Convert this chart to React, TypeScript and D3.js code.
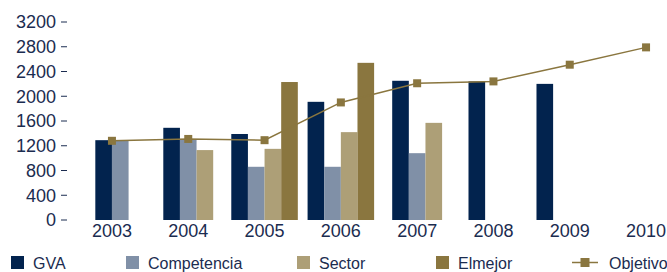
import React from 'react';
import * as d3 from 'd3';

const years = ['2003', '2004', '2005', '2006', '2007', '2008', '2009', '2010'];
const gva = [1290, 1490, 1390, 1910, 2250, 2240, 2200, null];
const competencia = [1290, 1300, 860, 860, 1080, 0, 0, null];
const sector = [null, 1130, 1150, 1420, 1570, 0, 0, null];
const elMejor = [null, null, 2230, 2540, null, null, 0, null];
const objetivo = [1280, 1310, 1290, 1900, 2210, 2240, 2510, 2790];
const yTicks = [0, 400, 800, 1200, 1600, 2000, 2400, 2800, 3200];

const series = [
  { name: 'GVA', values: gva, color: '#02234e' },
  { name: 'Competencia', values: competencia, color: '#8090a7' },
  { name: 'Sector', values: sector, color: '#ad9f77' },
  { name: 'Elmejor', values: elMejor, color: '#8a763f' },
];
const lineColor = '#8a763f';
const textColor = '#1b2c50';
const font = '"Liberation Sans", Arial, Helvetica, sans-serif';

const W = 667;
const H = 272;
// legend item offsets (layout only)
const legendX = [11, 126, 297, 436, 572];

export default function App() {
  const x = d3.scaleBand().domain(years).range([73.8, 684.2]).padding(0);
  const y = d3.scaleLinear().domain([0, 3200]).range([220, 22]);
  const barW = x.bandwidth() * 0.218;

  const line = d3
    .line<number>()
    .x((_, i) => (x(years[i]) as number) + x.bandwidth() / 2)
    .y((d) => y(d));

  return (
    <svg width={W} height={H} style={{ position: 'absolute', left: 0, top: 0, fontFamily: font }}>
      {/* y axis */}
      {yTicks.map((t) => (
        <g key={t} transform={`translate(0,${y(t)})`}>
          <line x1={61} x2={67} stroke={textColor} strokeWidth={1} />
          <text x={56} dy="0.35em" textAnchor="end" fontSize={18} fill={textColor}>
            {t}
          </text>
        </g>
      ))}

      {/* bars */}
      {years.map((yr, i) => {
        const present = series.filter((s) => s.values[i] !== null);
        const inner = d3
          .scaleBand()
          .domain(present.map((s) => s.name))
          .range([0, barW * present.length]);
        const cx = (x(yr) as number) + x.bandwidth() / 2;
        const start = cx - (barW * present.length) / 2;
        return (
          <g key={yr}>
            {present.map((s) => {
              const v = s.values[i] as number;
              return (
                <rect
                  key={s.name}
                  x={start + (inner(s.name) as number)}
                  y={y(v)}
                  width={inner.bandwidth()}
                  height={y(0) - y(v)}
                  fill={s.color}
                />
              );
            })}
          </g>
        );
      })}

      {/* objetivo line */}
      <path d={line(objetivo) || ''} fill="none" stroke={lineColor} strokeWidth={1.5} />
      {objetivo.map((v, i) => (
        <rect
          key={i}
          x={(x(years[i]) as number) + x.bandwidth() / 2 - 4}
          y={y(v) - 4}
          width={8}
          height={8}
          fill={lineColor}
        />
      ))}

      {/* x labels */}
      {years.map((yr) => (
        <text
          key={yr}
          x={(x(yr) as number) + x.bandwidth() / 2}
          y={237}
          textAnchor="middle"
          fontSize={18}
          fill={textColor}
        >
          {yr}
        </text>
      ))}

      {/* legend */}
      {series.map((s, i) => (
        <g key={s.name} transform={`translate(${legendX[i]},0)`}>
          <rect x={0} y={256} width={13} height={13} fill={s.color} />
          <text x={22} y={269} fontSize={16} fill={textColor}>
            {s.name}
          </text>
        </g>
      ))}
      <g transform={`translate(${legendX[4]},0)`}>
        <line x1={0} x2={26} y1={262.5} y2={262.5} stroke={lineColor} strokeWidth={1.5} />
        <rect x={8.5} y={258} width={9} height={9} fill={lineColor} />
        <text x={37} y={269} fontSize={16} fill={textColor}>
          Objetivo
        </text>
      </g>
    </svg>
  );
}
